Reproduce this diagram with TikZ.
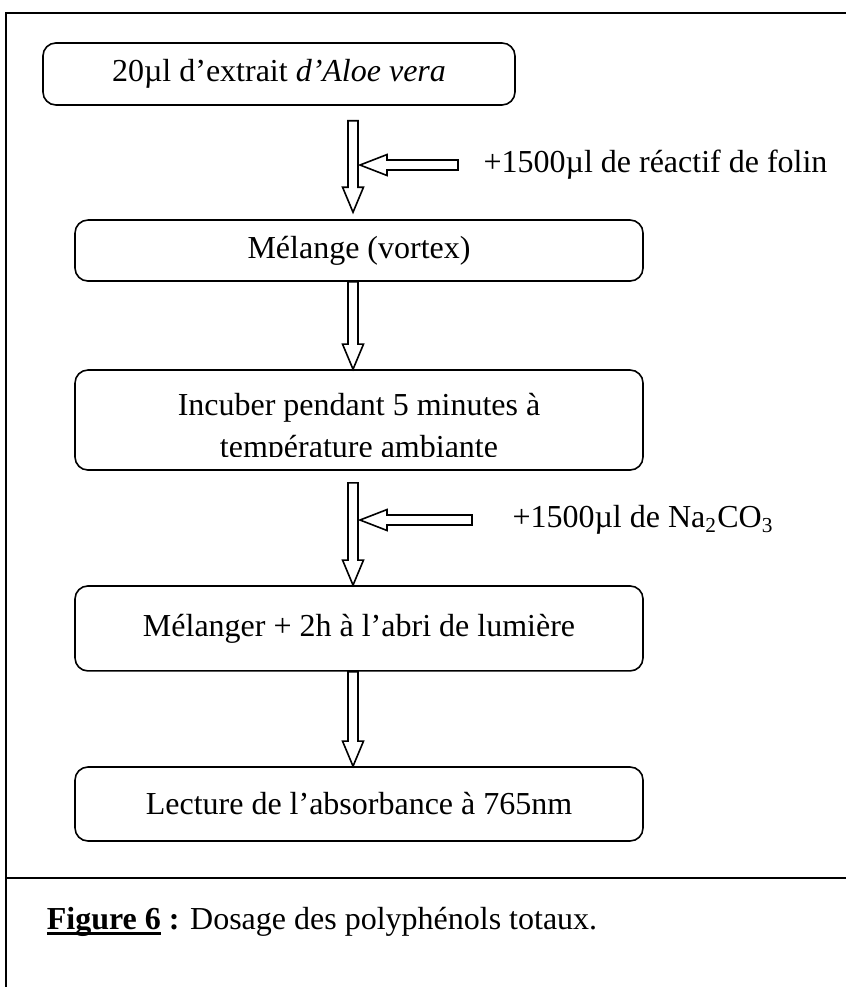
\documentclass[tikz,border=0pt]{standalone}
\usepackage{fontspec}
\setmainfont{Liberation Serif}
\usetikzlibrary{positioning, calc}
\newcommand{\ulfig}[1]{\setbox0=\hbox{#1}\rlap{\rule[-1.9pt]{\wd0}{0.9pt}}\box0\relax}

\begin{document}
\begin{tikzpicture}[font=\fontsize{12}{15.7}\selectfont,
        stage/.style={draw, rounded corners=0.17cm, line width=0.6pt, align=center, inner sep=0pt},
        note/.style={anchor=west, inner sep=0pt},
        frame/.style={line width=0.6pt},
        hollowdown/.style={draw, fill=white, line width=0.6pt, to path={
            let \p1=(\tikztostart), \p2=(\tikztotarget) in
            (\x1-0.066cm,\y1) -- (\x1+0.066cm,\y1) -- (\x1+0.066cm,\y2+0.33cm) -- (\x1+0.138cm,\y2+0.33cm)
            -- (\x1,\y2) -- (\x1-0.138cm,\y2+0.33cm) -- (\x1-0.066cm,\y2+0.33cm) -- cycle}},
        hollowleft/.style={draw, fill=white, line width=0.6pt, to path={
            let \p1=(\tikztostart), \p2=(\tikztotarget) in
            (\x1,\y1-0.066cm) -- (\x1,\y1+0.066cm) -- (\x2+0.356cm,\y1+0.066cm) -- (\x2+0.356cm,\y1+0.138cm)
            -- (\x2,\y1) -- (\x2+0.356cm,\y1-0.138cm) -- (\x2+0.356cm,\y1-0.066cm) -- cycle}}]
            \useasboundingbox (0,0) rectangle (11.15,-13.009);

            \draw[frame] (11.15,-0.171) -- (0.079,-0.171) -- (0.079,-13.009);
            \draw[frame] (0.079,-11.572) -- (11.15,-11.572);

            \coordinate (col) at (4.653,0);

            \node[stage, minimum width=6.221cm, minimum height=0.817cm] (extrait) at (3.677,-0.975) {20µl d’extrait \textit{d’Aloe vera}};
            \node[stage, minimum width=7.486cm, minimum height=0.804cm] (vortex) at (4.732,-3.302) {Mélange (vortex)};
            \node[stage, minimum width=7.486cm, minimum height=1.318cm] (incub) at (4.732,-5.536) {};
            \begin{scope}
                \clip (incub.north west) rectangle ($(incub.south east)+(0,0.185)$);
                \node[align=center] (incubtext) at ($(incub.center)+(0,-0.118)$) {Incuber pendant 5 minutes à\\température ambiante};
            \end{scope}
            \node[stage, minimum width=7.486cm, minimum height=1.120cm] (abri) at (4.732,-8.283) {Mélanger + 2h à l’abri de lumière};
            \node[stage, minimum width=7.486cm, minimum height=0.975cm] (lecture) at (4.732,-10.597) {Lecture de l’absorbance à 765nm};

            \node[note] (folin) at (6.366,-2.175) {+1500µl de réactif de folin};
            \node[note] (naco) at (6.748,-6.854) {+1500µl de Na\textsubscript{2}CO\textsubscript{3}};

            \node[note] (caption) at (0.61,-12.15) {\textbf{\ulfig{Figure 6} :} Dosage des polyphénols totaux.};

            \path
            ($(extrait.south -| col)+(0,-0.198)$) edge[hollowdown] ($(vortex.north -| col)+(0,0.092)$)
            (vortex.south -| col) edge[hollowdown] (incub.north -| col)
            ($(incub.south -| col)+(0,-0.158)$) edge[hollowdown] (abri.north -| col)
            (abri.south -| col) edge[hollowdown] (lecture.north -| col)
            ($(folin.west)+(-0.33,0)$) edge[hollowleft] ($(col |- folin.west)+(0.092,0)$)
            ($(naco.west)+(-0.527,0)$) edge[hollowleft] ($(col |- naco.west)+(0.092,0)$)
            ;
        \end{tikzpicture}
\end{document}
